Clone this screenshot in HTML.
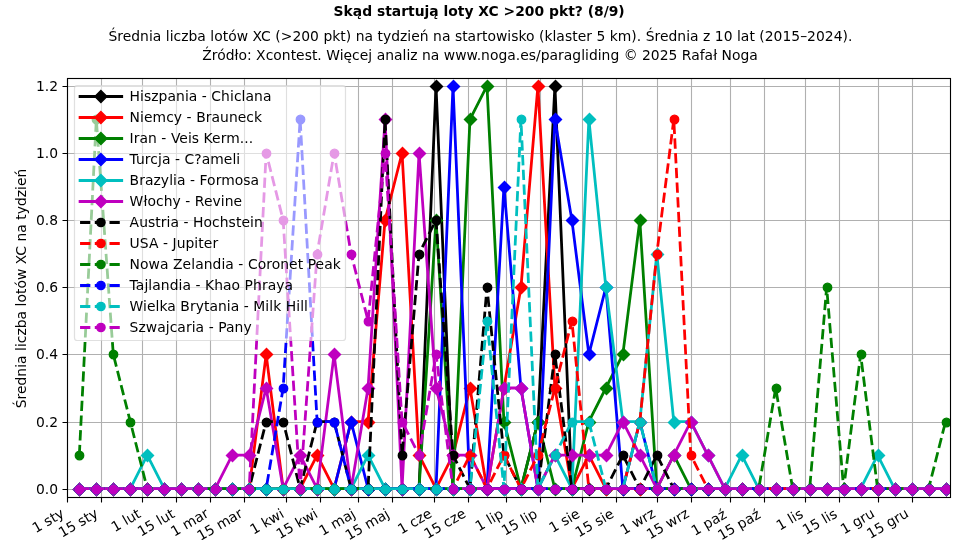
<!DOCTYPE html>
<html lang="pl"><head><meta charset="utf-8"><title>Skąd startują loty XC</title>
<style>html,body{margin:0;padding:0;background:#fff;overflow:hidden}svg{display:block}</style></head>
<body>
<svg width="960" height="540" viewBox="0 0 960 540" font-family="'DejaVu Sans', 'Liberation Sans', sans-serif" font-size="13.889px">
<rect width="960" height="540" fill="#fff"/>
<path d="M67.50 78.50V497.50M101.50 78.50V497.50M142.50 78.50V497.50M176.50 78.50V497.50M210.50 78.50V497.50M244.50 78.50V497.50M286.50 78.50V497.50M320.50 78.50V497.50M358.50 78.50V497.50M392.50 78.50V497.50M434.50 78.50V497.50M468.50 78.50V497.50M506.50 78.50V497.50M540.50 78.50V497.50M582.50 78.50V497.50M616.50 78.50V497.50M657.50 78.50V497.50M691.50 78.50V497.50M730.50 78.50V497.50M764.50 78.50V497.50M805.50 78.50V497.50M839.50 78.50V497.50M878.50 78.50V497.50M912.50 78.50V497.50M67.50 489.50H950.50M67.50 422.50H950.50M67.50 354.50H950.50M67.50 287.50H950.50M67.50 220.50H950.50M67.50 153.50H950.50M67.50 86.50H950.50" stroke="#b0b0b0" stroke-width="1.11" fill="none"/>
<defs><clipPath id="cp"><rect x="67.20" y="77.78" width="883.21" height="419.00"/></clipPath></defs>
<g clip-path="url(#cp)">
<polyline points="79.33,488.72 96.32,488.72 113.30,488.72 130.29,488.72 147.27,488.72 164.26,488.72 181.24,488.72 198.23,488.72 215.21,488.72 232.20,488.72 249.18,488.72 266.16,488.72 283.15,488.72 300.13,488.72 317.12,488.72 334.10,488.72 351.09,488.72 368.07,488.72 385.06,488.72 402.04,488.72 419.03,488.72 436.01,85.84 453.00,488.72 469.98,488.72 486.97,488.72 503.95,488.72 520.94,488.72 537.92,421.57 554.91,85.84 571.89,488.72 588.88,488.72 605.86,488.72 622.85,488.72 639.83,488.72 656.82,488.72 673.80,488.72 690.79,488.72 707.77,488.72 724.75,488.72 741.74,488.72 758.72,488.72 775.71,488.72 792.69,488.72 809.68,488.72 826.66,488.72 843.65,488.72 860.63,488.72 877.62,488.72 894.60,488.72 911.59,488.72 928.57,488.72 945.56,488.72" fill="none" stroke="#000000" stroke-width="2.78" stroke-linejoin="round" stroke-linecap="square"/>
<path d="M79.5 483.5l6 6l-6 6l-6 -6zM96.5 483.5l6 6l-6 6l-6 -6zM113.5 483.5l6 6l-6 6l-6 -6zM130.5 483.5l6 6l-6 6l-6 -6zM147.5 483.5l6 6l-6 6l-6 -6zM164.5 483.5l6 6l-6 6l-6 -6zM181.5 483.5l6 6l-6 6l-6 -6zM198.5 483.5l6 6l-6 6l-6 -6zM215.5 483.5l6 6l-6 6l-6 -6zM232.5 483.5l6 6l-6 6l-6 -6zM249.5 483.5l6 6l-6 6l-6 -6zM266.5 483.5l6 6l-6 6l-6 -6zM283.5 483.5l6 6l-6 6l-6 -6zM300.5 483.5l6 6l-6 6l-6 -6zM317.5 483.5l6 6l-6 6l-6 -6zM334.5 483.5l6 6l-6 6l-6 -6zM351.5 483.5l6 6l-6 6l-6 -6zM368.5 483.5l6 6l-6 6l-6 -6zM385.5 483.5l6 6l-6 6l-6 -6zM402.5 483.5l6 6l-6 6l-6 -6zM419.5 483.5l6 6l-6 6l-6 -6zM436.5 80.5l6 6l-6 6l-6 -6zM453.5 483.5l6 6l-6 6l-6 -6zM470.5 483.5l6 6l-6 6l-6 -6zM487.5 483.5l6 6l-6 6l-6 -6zM504.5 483.5l6 6l-6 6l-6 -6zM521.5 483.5l6 6l-6 6l-6 -6zM538.5 416.5l6 6l-6 6l-6 -6zM555.5 80.5l6 6l-6 6l-6 -6zM572.5 483.5l6 6l-6 6l-6 -6zM589.5 483.5l6 6l-6 6l-6 -6zM606.5 483.5l6 6l-6 6l-6 -6zM623.5 483.5l6 6l-6 6l-6 -6zM640.5 483.5l6 6l-6 6l-6 -6zM657.5 483.5l6 6l-6 6l-6 -6zM674.5 483.5l6 6l-6 6l-6 -6zM691.5 483.5l6 6l-6 6l-6 -6zM708.5 483.5l6 6l-6 6l-6 -6zM725.5 483.5l6 6l-6 6l-6 -6zM742.5 483.5l6 6l-6 6l-6 -6zM759.5 483.5l6 6l-6 6l-6 -6zM776.5 483.5l6 6l-6 6l-6 -6zM793.5 483.5l6 6l-6 6l-6 -6zM810.5 483.5l6 6l-6 6l-6 -6zM827.5 483.5l6 6l-6 6l-6 -6zM844.5 483.5l6 6l-6 6l-6 -6zM861.5 483.5l6 6l-6 6l-6 -6zM878.5 483.5l6 6l-6 6l-6 -6zM895.5 483.5l6 6l-6 6l-6 -6zM912.5 483.5l6 6l-6 6l-6 -6zM929.5 483.5l6 6l-6 6l-6 -6zM946.5 483.5l6 6l-6 6l-6 -6z" fill="#000000" stroke="#000000" stroke-width="1.39" stroke-linejoin="miter"/>
<polyline points="79.33,488.72 96.32,488.72 113.30,488.72 130.29,488.72 147.27,488.72 164.26,488.72 181.24,488.72 198.23,488.72 215.21,488.72 232.20,488.72 249.18,488.72 266.16,354.43 283.15,488.72 300.13,488.72 317.12,455.15 334.10,488.72 351.09,421.57 368.07,421.57 385.06,220.14 402.04,152.99 419.03,455.15 436.01,488.72 453.00,455.15 469.98,388.00 486.97,488.72 503.95,388.00 520.94,287.28 537.92,85.84 554.91,388.00 571.89,488.72 588.88,455.15 605.86,488.72 622.85,488.72 639.83,488.72 656.82,488.72 673.80,488.72 690.79,488.72 707.77,488.72 724.75,488.72 741.74,488.72 758.72,488.72 775.71,488.72 792.69,488.72 809.68,488.72 826.66,488.72 843.65,488.72 860.63,488.72 877.62,488.72 894.60,488.72 911.59,488.72 928.57,488.72 945.56,488.72" fill="none" stroke="#ff0000" stroke-width="2.78" stroke-linejoin="round" stroke-linecap="square"/>
<path d="M79.5 483.5l6 6l-6 6l-6 -6zM96.5 483.5l6 6l-6 6l-6 -6zM113.5 483.5l6 6l-6 6l-6 -6zM130.5 483.5l6 6l-6 6l-6 -6zM147.5 483.5l6 6l-6 6l-6 -6zM164.5 483.5l6 6l-6 6l-6 -6zM181.5 483.5l6 6l-6 6l-6 -6zM198.5 483.5l6 6l-6 6l-6 -6zM215.5 483.5l6 6l-6 6l-6 -6zM232.5 483.5l6 6l-6 6l-6 -6zM249.5 483.5l6 6l-6 6l-6 -6zM266.5 348.5l6 6l-6 6l-6 -6zM283.5 483.5l6 6l-6 6l-6 -6zM300.5 483.5l6 6l-6 6l-6 -6zM317.5 449.5l6 6l-6 6l-6 -6zM334.5 483.5l6 6l-6 6l-6 -6zM351.5 416.5l6 6l-6 6l-6 -6zM368.5 416.5l6 6l-6 6l-6 -6zM385.5 214.5l6 6l-6 6l-6 -6zM402.5 147.5l6 6l-6 6l-6 -6zM419.5 449.5l6 6l-6 6l-6 -6zM436.5 483.5l6 6l-6 6l-6 -6zM453.5 449.5l6 6l-6 6l-6 -6zM470.5 382.5l6 6l-6 6l-6 -6zM487.5 483.5l6 6l-6 6l-6 -6zM504.5 382.5l6 6l-6 6l-6 -6zM521.5 281.5l6 6l-6 6l-6 -6zM538.5 80.5l6 6l-6 6l-6 -6zM555.5 382.5l6 6l-6 6l-6 -6zM572.5 483.5l6 6l-6 6l-6 -6zM589.5 449.5l6 6l-6 6l-6 -6zM606.5 483.5l6 6l-6 6l-6 -6zM623.5 483.5l6 6l-6 6l-6 -6zM640.5 483.5l6 6l-6 6l-6 -6zM657.5 483.5l6 6l-6 6l-6 -6zM674.5 483.5l6 6l-6 6l-6 -6zM691.5 483.5l6 6l-6 6l-6 -6zM708.5 483.5l6 6l-6 6l-6 -6zM725.5 483.5l6 6l-6 6l-6 -6zM742.5 483.5l6 6l-6 6l-6 -6zM759.5 483.5l6 6l-6 6l-6 -6zM776.5 483.5l6 6l-6 6l-6 -6zM793.5 483.5l6 6l-6 6l-6 -6zM810.5 483.5l6 6l-6 6l-6 -6zM827.5 483.5l6 6l-6 6l-6 -6zM844.5 483.5l6 6l-6 6l-6 -6zM861.5 483.5l6 6l-6 6l-6 -6zM878.5 483.5l6 6l-6 6l-6 -6zM895.5 483.5l6 6l-6 6l-6 -6zM912.5 483.5l6 6l-6 6l-6 -6zM929.5 483.5l6 6l-6 6l-6 -6zM946.5 483.5l6 6l-6 6l-6 -6z" fill="#ff0000" stroke="#ff0000" stroke-width="1.39" stroke-linejoin="miter"/>
<polyline points="79.33,488.72 96.32,488.72 113.30,488.72 130.29,488.72 147.27,488.72 164.26,488.72 181.24,488.72 198.23,488.72 215.21,488.72 232.20,488.72 249.18,488.72 266.16,488.72 283.15,488.72 300.13,488.72 317.12,488.72 334.10,488.72 351.09,488.72 368.07,488.72 385.06,488.72 402.04,488.72 419.03,488.72 436.01,220.14 453.00,488.72 469.98,119.42 486.97,85.84 503.95,421.57 520.94,488.72 537.92,421.57 554.91,488.72 571.89,488.72 588.88,421.57 605.86,388.00 622.85,354.43 639.83,220.14 656.82,488.72 673.80,455.15 690.79,488.72 707.77,488.72 724.75,488.72 741.74,488.72 758.72,488.72 775.71,488.72 792.69,488.72 809.68,488.72 826.66,488.72 843.65,488.72 860.63,488.72 877.62,488.72 894.60,488.72 911.59,488.72 928.57,488.72 945.56,488.72" fill="none" stroke="#008000" stroke-width="2.78" stroke-linejoin="round" stroke-linecap="square"/>
<path d="M79.5 483.5l6 6l-6 6l-6 -6zM96.5 483.5l6 6l-6 6l-6 -6zM113.5 483.5l6 6l-6 6l-6 -6zM130.5 483.5l6 6l-6 6l-6 -6zM147.5 483.5l6 6l-6 6l-6 -6zM164.5 483.5l6 6l-6 6l-6 -6zM181.5 483.5l6 6l-6 6l-6 -6zM198.5 483.5l6 6l-6 6l-6 -6zM215.5 483.5l6 6l-6 6l-6 -6zM232.5 483.5l6 6l-6 6l-6 -6zM249.5 483.5l6 6l-6 6l-6 -6zM266.5 483.5l6 6l-6 6l-6 -6zM283.5 483.5l6 6l-6 6l-6 -6zM300.5 483.5l6 6l-6 6l-6 -6zM317.5 483.5l6 6l-6 6l-6 -6zM334.5 483.5l6 6l-6 6l-6 -6zM351.5 483.5l6 6l-6 6l-6 -6zM368.5 483.5l6 6l-6 6l-6 -6zM385.5 483.5l6 6l-6 6l-6 -6zM402.5 483.5l6 6l-6 6l-6 -6zM419.5 483.5l6 6l-6 6l-6 -6zM436.5 214.5l6 6l-6 6l-6 -6zM453.5 483.5l6 6l-6 6l-6 -6zM470.5 113.5l6 6l-6 6l-6 -6zM487.5 80.5l6 6l-6 6l-6 -6zM504.5 416.5l6 6l-6 6l-6 -6zM521.5 483.5l6 6l-6 6l-6 -6zM538.5 416.5l6 6l-6 6l-6 -6zM555.5 483.5l6 6l-6 6l-6 -6zM572.5 483.5l6 6l-6 6l-6 -6zM589.5 416.5l6 6l-6 6l-6 -6zM606.5 382.5l6 6l-6 6l-6 -6zM623.5 348.5l6 6l-6 6l-6 -6zM640.5 214.5l6 6l-6 6l-6 -6zM657.5 483.5l6 6l-6 6l-6 -6zM674.5 449.5l6 6l-6 6l-6 -6zM691.5 483.5l6 6l-6 6l-6 -6zM708.5 483.5l6 6l-6 6l-6 -6zM725.5 483.5l6 6l-6 6l-6 -6zM742.5 483.5l6 6l-6 6l-6 -6zM759.5 483.5l6 6l-6 6l-6 -6zM776.5 483.5l6 6l-6 6l-6 -6zM793.5 483.5l6 6l-6 6l-6 -6zM810.5 483.5l6 6l-6 6l-6 -6zM827.5 483.5l6 6l-6 6l-6 -6zM844.5 483.5l6 6l-6 6l-6 -6zM861.5 483.5l6 6l-6 6l-6 -6zM878.5 483.5l6 6l-6 6l-6 -6zM895.5 483.5l6 6l-6 6l-6 -6zM912.5 483.5l6 6l-6 6l-6 -6zM929.5 483.5l6 6l-6 6l-6 -6zM946.5 483.5l6 6l-6 6l-6 -6z" fill="#008000" stroke="#008000" stroke-width="1.39" stroke-linejoin="miter"/>
<polyline points="79.33,488.72 96.32,488.72 113.30,488.72 130.29,488.72 147.27,488.72 164.26,488.72 181.24,488.72 198.23,488.72 215.21,488.72 232.20,488.72 249.18,488.72 266.16,488.72 283.15,488.72 300.13,488.72 317.12,488.72 334.10,488.72 351.09,421.57 368.07,488.72 385.06,488.72 402.04,488.72 419.03,488.72 436.01,488.72 453.00,85.84 469.98,488.72 486.97,488.72 503.95,186.56 520.94,388.00 537.92,488.72 554.91,119.42 571.89,220.14 588.88,354.43 605.86,287.28 622.85,488.72 639.83,421.57 656.82,488.72 673.80,488.72 690.79,488.72 707.77,488.72 724.75,488.72 741.74,488.72 758.72,488.72 775.71,488.72 792.69,488.72 809.68,488.72 826.66,488.72 843.65,488.72 860.63,488.72 877.62,488.72 894.60,488.72 911.59,488.72 928.57,488.72 945.56,488.72" fill="none" stroke="#0000ff" stroke-width="2.78" stroke-linejoin="round" stroke-linecap="square"/>
<path d="M79.5 483.5l6 6l-6 6l-6 -6zM96.5 483.5l6 6l-6 6l-6 -6zM113.5 483.5l6 6l-6 6l-6 -6zM130.5 483.5l6 6l-6 6l-6 -6zM147.5 483.5l6 6l-6 6l-6 -6zM164.5 483.5l6 6l-6 6l-6 -6zM181.5 483.5l6 6l-6 6l-6 -6zM198.5 483.5l6 6l-6 6l-6 -6zM215.5 483.5l6 6l-6 6l-6 -6zM232.5 483.5l6 6l-6 6l-6 -6zM249.5 483.5l6 6l-6 6l-6 -6zM266.5 483.5l6 6l-6 6l-6 -6zM283.5 483.5l6 6l-6 6l-6 -6zM300.5 483.5l6 6l-6 6l-6 -6zM317.5 483.5l6 6l-6 6l-6 -6zM334.5 483.5l6 6l-6 6l-6 -6zM351.5 416.5l6 6l-6 6l-6 -6zM368.5 483.5l6 6l-6 6l-6 -6zM385.5 483.5l6 6l-6 6l-6 -6zM402.5 483.5l6 6l-6 6l-6 -6zM419.5 483.5l6 6l-6 6l-6 -6zM436.5 483.5l6 6l-6 6l-6 -6zM453.5 80.5l6 6l-6 6l-6 -6zM470.5 483.5l6 6l-6 6l-6 -6zM487.5 483.5l6 6l-6 6l-6 -6zM504.5 181.5l6 6l-6 6l-6 -6zM521.5 382.5l6 6l-6 6l-6 -6zM538.5 483.5l6 6l-6 6l-6 -6zM555.5 113.5l6 6l-6 6l-6 -6zM572.5 214.5l6 6l-6 6l-6 -6zM589.5 348.5l6 6l-6 6l-6 -6zM606.5 281.5l6 6l-6 6l-6 -6zM623.5 483.5l6 6l-6 6l-6 -6zM640.5 416.5l6 6l-6 6l-6 -6zM657.5 483.5l6 6l-6 6l-6 -6zM674.5 483.5l6 6l-6 6l-6 -6zM691.5 483.5l6 6l-6 6l-6 -6zM708.5 483.5l6 6l-6 6l-6 -6zM725.5 483.5l6 6l-6 6l-6 -6zM742.5 483.5l6 6l-6 6l-6 -6zM759.5 483.5l6 6l-6 6l-6 -6zM776.5 483.5l6 6l-6 6l-6 -6zM793.5 483.5l6 6l-6 6l-6 -6zM810.5 483.5l6 6l-6 6l-6 -6zM827.5 483.5l6 6l-6 6l-6 -6zM844.5 483.5l6 6l-6 6l-6 -6zM861.5 483.5l6 6l-6 6l-6 -6zM878.5 483.5l6 6l-6 6l-6 -6zM895.5 483.5l6 6l-6 6l-6 -6zM912.5 483.5l6 6l-6 6l-6 -6zM929.5 483.5l6 6l-6 6l-6 -6zM946.5 483.5l6 6l-6 6l-6 -6z" fill="#0000ff" stroke="#0000ff" stroke-width="1.39" stroke-linejoin="miter"/>
<polyline points="79.33,488.72 96.32,488.72 113.30,488.72 130.29,488.72 147.27,455.15 164.26,488.72 181.24,488.72 198.23,488.72 215.21,488.72 232.20,488.72 249.18,488.72 266.16,488.72 283.15,488.72 300.13,488.72 317.12,488.72 334.10,488.72 351.09,488.72 368.07,455.15 385.06,488.72 402.04,488.72 419.03,488.72 436.01,488.72 453.00,488.72 469.98,488.72 486.97,488.72 503.95,488.72 520.94,488.72 537.92,488.72 554.91,455.15 571.89,488.72 588.88,119.42 605.86,287.28 622.85,421.57 639.83,421.57 656.82,253.71 673.80,421.57 690.79,421.57 707.77,455.15 724.75,488.72 741.74,455.15 758.72,488.72 775.71,488.72 792.69,488.72 809.68,488.72 826.66,488.72 843.65,488.72 860.63,488.72 877.62,455.15 894.60,488.72 911.59,488.72 928.57,488.72 945.56,488.72" fill="none" stroke="#00bfbf" stroke-width="2.78" stroke-linejoin="round" stroke-linecap="square"/>
<path d="M79.5 483.5l6 6l-6 6l-6 -6zM96.5 483.5l6 6l-6 6l-6 -6zM113.5 483.5l6 6l-6 6l-6 -6zM130.5 483.5l6 6l-6 6l-6 -6zM147.5 449.5l6 6l-6 6l-6 -6zM164.5 483.5l6 6l-6 6l-6 -6zM181.5 483.5l6 6l-6 6l-6 -6zM198.5 483.5l6 6l-6 6l-6 -6zM215.5 483.5l6 6l-6 6l-6 -6zM232.5 483.5l6 6l-6 6l-6 -6zM249.5 483.5l6 6l-6 6l-6 -6zM266.5 483.5l6 6l-6 6l-6 -6zM283.5 483.5l6 6l-6 6l-6 -6zM300.5 483.5l6 6l-6 6l-6 -6zM317.5 483.5l6 6l-6 6l-6 -6zM334.5 483.5l6 6l-6 6l-6 -6zM351.5 483.5l6 6l-6 6l-6 -6zM368.5 449.5l6 6l-6 6l-6 -6zM385.5 483.5l6 6l-6 6l-6 -6zM402.5 483.5l6 6l-6 6l-6 -6zM419.5 483.5l6 6l-6 6l-6 -6zM436.5 483.5l6 6l-6 6l-6 -6zM453.5 483.5l6 6l-6 6l-6 -6zM470.5 483.5l6 6l-6 6l-6 -6zM487.5 483.5l6 6l-6 6l-6 -6zM504.5 483.5l6 6l-6 6l-6 -6zM521.5 483.5l6 6l-6 6l-6 -6zM538.5 483.5l6 6l-6 6l-6 -6zM555.5 449.5l6 6l-6 6l-6 -6zM572.5 483.5l6 6l-6 6l-6 -6zM589.5 113.5l6 6l-6 6l-6 -6zM606.5 281.5l6 6l-6 6l-6 -6zM623.5 416.5l6 6l-6 6l-6 -6zM640.5 416.5l6 6l-6 6l-6 -6zM657.5 248.5l6 6l-6 6l-6 -6zM674.5 416.5l6 6l-6 6l-6 -6zM691.5 416.5l6 6l-6 6l-6 -6zM708.5 449.5l6 6l-6 6l-6 -6zM725.5 483.5l6 6l-6 6l-6 -6zM742.5 449.5l6 6l-6 6l-6 -6zM759.5 483.5l6 6l-6 6l-6 -6zM776.5 483.5l6 6l-6 6l-6 -6zM793.5 483.5l6 6l-6 6l-6 -6zM810.5 483.5l6 6l-6 6l-6 -6zM827.5 483.5l6 6l-6 6l-6 -6zM844.5 483.5l6 6l-6 6l-6 -6zM861.5 483.5l6 6l-6 6l-6 -6zM878.5 449.5l6 6l-6 6l-6 -6zM895.5 483.5l6 6l-6 6l-6 -6zM912.5 483.5l6 6l-6 6l-6 -6zM929.5 483.5l6 6l-6 6l-6 -6zM946.5 483.5l6 6l-6 6l-6 -6z" fill="#00bfbf" stroke="#00bfbf" stroke-width="1.39" stroke-linejoin="miter"/>
<polyline points="79.33,488.72 96.32,488.72 113.30,488.72 130.29,488.72 147.27,488.72 164.26,488.72 181.24,488.72 198.23,488.72 215.21,488.72 232.20,455.15 249.18,455.15 266.16,388.00 283.15,488.72 300.13,455.15 317.12,488.72 334.10,354.43 351.09,488.72 368.07,388.00 385.06,119.42 402.04,488.72 419.03,152.99 436.01,388.00 453.00,455.15 469.98,455.15 486.97,488.72 503.95,388.00 520.94,388.00 537.92,488.72 554.91,455.15 571.89,455.15 588.88,455.15 605.86,455.15 622.85,421.57 639.83,455.15 656.82,488.72 673.80,455.15 690.79,421.57 707.77,455.15 724.75,488.72 741.74,488.72 758.72,488.72 775.71,488.72 792.69,488.72 809.68,488.72 826.66,488.72 843.65,488.72 860.63,488.72 877.62,488.72 894.60,488.72 911.59,488.72 928.57,488.72 945.56,488.72" fill="none" stroke="#bf00bf" stroke-width="2.78" stroke-linejoin="round" stroke-linecap="square"/>
<path d="M79.5 483.5l6 6l-6 6l-6 -6zM96.5 483.5l6 6l-6 6l-6 -6zM113.5 483.5l6 6l-6 6l-6 -6zM130.5 483.5l6 6l-6 6l-6 -6zM147.5 483.5l6 6l-6 6l-6 -6zM164.5 483.5l6 6l-6 6l-6 -6zM181.5 483.5l6 6l-6 6l-6 -6zM198.5 483.5l6 6l-6 6l-6 -6zM215.5 483.5l6 6l-6 6l-6 -6zM232.5 449.5l6 6l-6 6l-6 -6zM249.5 449.5l6 6l-6 6l-6 -6zM266.5 382.5l6 6l-6 6l-6 -6zM283.5 483.5l6 6l-6 6l-6 -6zM300.5 449.5l6 6l-6 6l-6 -6zM317.5 483.5l6 6l-6 6l-6 -6zM334.5 348.5l6 6l-6 6l-6 -6zM351.5 483.5l6 6l-6 6l-6 -6zM368.5 382.5l6 6l-6 6l-6 -6zM385.5 113.5l6 6l-6 6l-6 -6zM402.5 483.5l6 6l-6 6l-6 -6zM419.5 147.5l6 6l-6 6l-6 -6zM436.5 382.5l6 6l-6 6l-6 -6zM453.5 449.5l6 6l-6 6l-6 -6zM470.5 449.5l6 6l-6 6l-6 -6zM487.5 483.5l6 6l-6 6l-6 -6zM504.5 382.5l6 6l-6 6l-6 -6zM521.5 382.5l6 6l-6 6l-6 -6zM538.5 483.5l6 6l-6 6l-6 -6zM555.5 449.5l6 6l-6 6l-6 -6zM572.5 449.5l6 6l-6 6l-6 -6zM589.5 449.5l6 6l-6 6l-6 -6zM606.5 449.5l6 6l-6 6l-6 -6zM623.5 416.5l6 6l-6 6l-6 -6zM640.5 449.5l6 6l-6 6l-6 -6zM657.5 483.5l6 6l-6 6l-6 -6zM674.5 449.5l6 6l-6 6l-6 -6zM691.5 416.5l6 6l-6 6l-6 -6zM708.5 449.5l6 6l-6 6l-6 -6zM725.5 483.5l6 6l-6 6l-6 -6zM742.5 483.5l6 6l-6 6l-6 -6zM759.5 483.5l6 6l-6 6l-6 -6zM776.5 483.5l6 6l-6 6l-6 -6zM793.5 483.5l6 6l-6 6l-6 -6zM810.5 483.5l6 6l-6 6l-6 -6zM827.5 483.5l6 6l-6 6l-6 -6zM844.5 483.5l6 6l-6 6l-6 -6zM861.5 483.5l6 6l-6 6l-6 -6zM878.5 483.5l6 6l-6 6l-6 -6zM895.5 483.5l6 6l-6 6l-6 -6zM912.5 483.5l6 6l-6 6l-6 -6zM929.5 483.5l6 6l-6 6l-6 -6zM946.5 483.5l6 6l-6 6l-6 -6z" fill="#bf00bf" stroke="#bf00bf" stroke-width="1.39" stroke-linejoin="miter"/>
<polyline points="79.33,488.72 96.32,488.72 113.30,488.72 130.29,488.72 147.27,488.72 164.26,488.72 181.24,488.72 198.23,488.72 215.21,488.72 232.20,488.72 249.18,488.72 266.16,421.57 283.15,421.57 300.13,488.72 317.12,421.57 334.10,421.57 351.09,488.72 368.07,488.72 385.06,119.42 402.04,455.15 419.03,253.71 436.01,220.14 453.00,455.15 469.98,488.72 486.97,287.28 503.95,455.15 520.94,488.72 537.92,488.72 554.91,354.43 571.89,488.72 588.88,488.72 605.86,488.72 622.85,455.15 639.83,488.72 656.82,455.15 673.80,488.72 690.79,488.72 707.77,488.72 724.75,488.72 741.74,488.72 758.72,488.72 775.71,488.72 792.69,488.72 809.68,488.72 826.66,488.72 843.65,488.72 860.63,488.72 877.62,488.72 894.60,488.72 911.59,488.72 928.57,488.72 945.56,488.72" fill="none" stroke="#000000" stroke-width="2.78" stroke-linejoin="round" stroke-dasharray="10.28 4.44"/>
<path d="M75.33 489.5a4.17 4.17 0 1 0 8.33 0a4.17 4.17 0 1 0 -8.33 0zM92.33 489.5a4.17 4.17 0 1 0 8.33 0a4.17 4.17 0 1 0 -8.33 0zM109.33 489.5a4.17 4.17 0 1 0 8.33 0a4.17 4.17 0 1 0 -8.33 0zM126.33 489.5a4.17 4.17 0 1 0 8.33 0a4.17 4.17 0 1 0 -8.33 0zM143.33 489.5a4.17 4.17 0 1 0 8.33 0a4.17 4.17 0 1 0 -8.33 0zM160.33 489.5a4.17 4.17 0 1 0 8.33 0a4.17 4.17 0 1 0 -8.33 0zM177.33 489.5a4.17 4.17 0 1 0 8.33 0a4.17 4.17 0 1 0 -8.33 0zM194.33 489.5a4.17 4.17 0 1 0 8.33 0a4.17 4.17 0 1 0 -8.33 0zM211.33 489.5a4.17 4.17 0 1 0 8.33 0a4.17 4.17 0 1 0 -8.33 0zM228.33 489.5a4.17 4.17 0 1 0 8.33 0a4.17 4.17 0 1 0 -8.33 0zM245.33 489.5a4.17 4.17 0 1 0 8.33 0a4.17 4.17 0 1 0 -8.33 0zM262.33 422.5a4.17 4.17 0 1 0 8.33 0a4.17 4.17 0 1 0 -8.33 0zM279.33 422.5a4.17 4.17 0 1 0 8.33 0a4.17 4.17 0 1 0 -8.33 0zM296.33 489.5a4.17 4.17 0 1 0 8.33 0a4.17 4.17 0 1 0 -8.33 0zM313.33 422.5a4.17 4.17 0 1 0 8.33 0a4.17 4.17 0 1 0 -8.33 0zM330.33 422.5a4.17 4.17 0 1 0 8.33 0a4.17 4.17 0 1 0 -8.33 0zM347.33 489.5a4.17 4.17 0 1 0 8.33 0a4.17 4.17 0 1 0 -8.33 0zM364.33 489.5a4.17 4.17 0 1 0 8.33 0a4.17 4.17 0 1 0 -8.33 0zM381.33 119.5a4.17 4.17 0 1 0 8.33 0a4.17 4.17 0 1 0 -8.33 0zM398.33 455.5a4.17 4.17 0 1 0 8.33 0a4.17 4.17 0 1 0 -8.33 0zM415.33 254.5a4.17 4.17 0 1 0 8.33 0a4.17 4.17 0 1 0 -8.33 0zM432.33 220.5a4.17 4.17 0 1 0 8.33 0a4.17 4.17 0 1 0 -8.33 0zM449.33 455.5a4.17 4.17 0 1 0 8.33 0a4.17 4.17 0 1 0 -8.33 0zM466.33 489.5a4.17 4.17 0 1 0 8.33 0a4.17 4.17 0 1 0 -8.33 0zM483.33 287.5a4.17 4.17 0 1 0 8.33 0a4.17 4.17 0 1 0 -8.33 0zM500.33 455.5a4.17 4.17 0 1 0 8.33 0a4.17 4.17 0 1 0 -8.33 0zM517.33 489.5a4.17 4.17 0 1 0 8.33 0a4.17 4.17 0 1 0 -8.33 0zM534.33 489.5a4.17 4.17 0 1 0 8.33 0a4.17 4.17 0 1 0 -8.33 0zM551.33 354.5a4.17 4.17 0 1 0 8.33 0a4.17 4.17 0 1 0 -8.33 0zM568.33 489.5a4.17 4.17 0 1 0 8.33 0a4.17 4.17 0 1 0 -8.33 0zM585.33 489.5a4.17 4.17 0 1 0 8.33 0a4.17 4.17 0 1 0 -8.33 0zM602.33 489.5a4.17 4.17 0 1 0 8.33 0a4.17 4.17 0 1 0 -8.33 0zM619.33 455.5a4.17 4.17 0 1 0 8.33 0a4.17 4.17 0 1 0 -8.33 0zM636.33 489.5a4.17 4.17 0 1 0 8.33 0a4.17 4.17 0 1 0 -8.33 0zM653.33 455.5a4.17 4.17 0 1 0 8.33 0a4.17 4.17 0 1 0 -8.33 0zM670.33 489.5a4.17 4.17 0 1 0 8.33 0a4.17 4.17 0 1 0 -8.33 0zM687.33 489.5a4.17 4.17 0 1 0 8.33 0a4.17 4.17 0 1 0 -8.33 0zM704.33 489.5a4.17 4.17 0 1 0 8.33 0a4.17 4.17 0 1 0 -8.33 0zM721.33 489.5a4.17 4.17 0 1 0 8.33 0a4.17 4.17 0 1 0 -8.33 0zM738.33 489.5a4.17 4.17 0 1 0 8.33 0a4.17 4.17 0 1 0 -8.33 0zM755.33 489.5a4.17 4.17 0 1 0 8.33 0a4.17 4.17 0 1 0 -8.33 0zM772.33 489.5a4.17 4.17 0 1 0 8.33 0a4.17 4.17 0 1 0 -8.33 0zM789.33 489.5a4.17 4.17 0 1 0 8.33 0a4.17 4.17 0 1 0 -8.33 0zM806.33 489.5a4.17 4.17 0 1 0 8.33 0a4.17 4.17 0 1 0 -8.33 0zM823.33 489.5a4.17 4.17 0 1 0 8.33 0a4.17 4.17 0 1 0 -8.33 0zM840.33 489.5a4.17 4.17 0 1 0 8.33 0a4.17 4.17 0 1 0 -8.33 0zM857.33 489.5a4.17 4.17 0 1 0 8.33 0a4.17 4.17 0 1 0 -8.33 0zM874.33 489.5a4.17 4.17 0 1 0 8.33 0a4.17 4.17 0 1 0 -8.33 0zM891.33 489.5a4.17 4.17 0 1 0 8.33 0a4.17 4.17 0 1 0 -8.33 0zM908.33 489.5a4.17 4.17 0 1 0 8.33 0a4.17 4.17 0 1 0 -8.33 0zM925.33 489.5a4.17 4.17 0 1 0 8.33 0a4.17 4.17 0 1 0 -8.33 0zM942.33 489.5a4.17 4.17 0 1 0 8.33 0a4.17 4.17 0 1 0 -8.33 0z" fill="#000000" stroke="#000000" stroke-width="1.39"/>
<polyline points="79.33,488.72 96.32,488.72 113.30,488.72 130.29,488.72 147.27,488.72 164.26,488.72 181.24,488.72 198.23,488.72 215.21,488.72 232.20,488.72 249.18,488.72 266.16,488.72 283.15,488.72 300.13,488.72 317.12,488.72 334.10,488.72 351.09,488.72 368.07,488.72 385.06,488.72 402.04,488.72 419.03,488.72 436.01,488.72 453.00,488.72 469.98,455.15 486.97,488.72 503.95,455.15 520.94,488.72 537.92,455.15 554.91,388.00 571.89,320.86 588.88,488.72 605.86,488.72 622.85,488.72 639.83,421.57 656.82,253.71 673.80,119.42 690.79,455.15 707.77,488.72 724.75,488.72 741.74,488.72 758.72,488.72 775.71,488.72 792.69,488.72 809.68,488.72 826.66,488.72 843.65,488.72 860.63,488.72 877.62,488.72 894.60,488.72 911.59,488.72 928.57,488.72 945.56,488.72" fill="none" stroke="#ff0000" stroke-width="2.78" stroke-linejoin="round" stroke-dasharray="10.28 4.44"/>
<path d="M75.33 489.5a4.17 4.17 0 1 0 8.33 0a4.17 4.17 0 1 0 -8.33 0zM92.33 489.5a4.17 4.17 0 1 0 8.33 0a4.17 4.17 0 1 0 -8.33 0zM109.33 489.5a4.17 4.17 0 1 0 8.33 0a4.17 4.17 0 1 0 -8.33 0zM126.33 489.5a4.17 4.17 0 1 0 8.33 0a4.17 4.17 0 1 0 -8.33 0zM143.33 489.5a4.17 4.17 0 1 0 8.33 0a4.17 4.17 0 1 0 -8.33 0zM160.33 489.5a4.17 4.17 0 1 0 8.33 0a4.17 4.17 0 1 0 -8.33 0zM177.33 489.5a4.17 4.17 0 1 0 8.33 0a4.17 4.17 0 1 0 -8.33 0zM194.33 489.5a4.17 4.17 0 1 0 8.33 0a4.17 4.17 0 1 0 -8.33 0zM211.33 489.5a4.17 4.17 0 1 0 8.33 0a4.17 4.17 0 1 0 -8.33 0zM228.33 489.5a4.17 4.17 0 1 0 8.33 0a4.17 4.17 0 1 0 -8.33 0zM245.33 489.5a4.17 4.17 0 1 0 8.33 0a4.17 4.17 0 1 0 -8.33 0zM262.33 489.5a4.17 4.17 0 1 0 8.33 0a4.17 4.17 0 1 0 -8.33 0zM279.33 489.5a4.17 4.17 0 1 0 8.33 0a4.17 4.17 0 1 0 -8.33 0zM296.33 489.5a4.17 4.17 0 1 0 8.33 0a4.17 4.17 0 1 0 -8.33 0zM313.33 489.5a4.17 4.17 0 1 0 8.33 0a4.17 4.17 0 1 0 -8.33 0zM330.33 489.5a4.17 4.17 0 1 0 8.33 0a4.17 4.17 0 1 0 -8.33 0zM347.33 489.5a4.17 4.17 0 1 0 8.33 0a4.17 4.17 0 1 0 -8.33 0zM364.33 489.5a4.17 4.17 0 1 0 8.33 0a4.17 4.17 0 1 0 -8.33 0zM381.33 489.5a4.17 4.17 0 1 0 8.33 0a4.17 4.17 0 1 0 -8.33 0zM398.33 489.5a4.17 4.17 0 1 0 8.33 0a4.17 4.17 0 1 0 -8.33 0zM415.33 489.5a4.17 4.17 0 1 0 8.33 0a4.17 4.17 0 1 0 -8.33 0zM432.33 489.5a4.17 4.17 0 1 0 8.33 0a4.17 4.17 0 1 0 -8.33 0zM449.33 489.5a4.17 4.17 0 1 0 8.33 0a4.17 4.17 0 1 0 -8.33 0zM466.33 455.5a4.17 4.17 0 1 0 8.33 0a4.17 4.17 0 1 0 -8.33 0zM483.33 489.5a4.17 4.17 0 1 0 8.33 0a4.17 4.17 0 1 0 -8.33 0zM500.33 455.5a4.17 4.17 0 1 0 8.33 0a4.17 4.17 0 1 0 -8.33 0zM517.33 489.5a4.17 4.17 0 1 0 8.33 0a4.17 4.17 0 1 0 -8.33 0zM534.33 455.5a4.17 4.17 0 1 0 8.33 0a4.17 4.17 0 1 0 -8.33 0zM551.33 388.5a4.17 4.17 0 1 0 8.33 0a4.17 4.17 0 1 0 -8.33 0zM568.33 321.5a4.17 4.17 0 1 0 8.33 0a4.17 4.17 0 1 0 -8.33 0zM585.33 489.5a4.17 4.17 0 1 0 8.33 0a4.17 4.17 0 1 0 -8.33 0zM602.33 489.5a4.17 4.17 0 1 0 8.33 0a4.17 4.17 0 1 0 -8.33 0zM619.33 489.5a4.17 4.17 0 1 0 8.33 0a4.17 4.17 0 1 0 -8.33 0zM636.33 422.5a4.17 4.17 0 1 0 8.33 0a4.17 4.17 0 1 0 -8.33 0zM653.33 254.5a4.17 4.17 0 1 0 8.33 0a4.17 4.17 0 1 0 -8.33 0zM670.33 119.5a4.17 4.17 0 1 0 8.33 0a4.17 4.17 0 1 0 -8.33 0zM687.33 455.5a4.17 4.17 0 1 0 8.33 0a4.17 4.17 0 1 0 -8.33 0zM704.33 489.5a4.17 4.17 0 1 0 8.33 0a4.17 4.17 0 1 0 -8.33 0zM721.33 489.5a4.17 4.17 0 1 0 8.33 0a4.17 4.17 0 1 0 -8.33 0zM738.33 489.5a4.17 4.17 0 1 0 8.33 0a4.17 4.17 0 1 0 -8.33 0zM755.33 489.5a4.17 4.17 0 1 0 8.33 0a4.17 4.17 0 1 0 -8.33 0zM772.33 489.5a4.17 4.17 0 1 0 8.33 0a4.17 4.17 0 1 0 -8.33 0zM789.33 489.5a4.17 4.17 0 1 0 8.33 0a4.17 4.17 0 1 0 -8.33 0zM806.33 489.5a4.17 4.17 0 1 0 8.33 0a4.17 4.17 0 1 0 -8.33 0zM823.33 489.5a4.17 4.17 0 1 0 8.33 0a4.17 4.17 0 1 0 -8.33 0zM840.33 489.5a4.17 4.17 0 1 0 8.33 0a4.17 4.17 0 1 0 -8.33 0zM857.33 489.5a4.17 4.17 0 1 0 8.33 0a4.17 4.17 0 1 0 -8.33 0zM874.33 489.5a4.17 4.17 0 1 0 8.33 0a4.17 4.17 0 1 0 -8.33 0zM891.33 489.5a4.17 4.17 0 1 0 8.33 0a4.17 4.17 0 1 0 -8.33 0zM908.33 489.5a4.17 4.17 0 1 0 8.33 0a4.17 4.17 0 1 0 -8.33 0zM925.33 489.5a4.17 4.17 0 1 0 8.33 0a4.17 4.17 0 1 0 -8.33 0zM942.33 489.5a4.17 4.17 0 1 0 8.33 0a4.17 4.17 0 1 0 -8.33 0z" fill="#ff0000" stroke="#ff0000" stroke-width="1.39"/>
<polyline points="79.33,455.15 96.32,119.42 113.30,354.43 130.29,421.57 147.27,488.72 164.26,488.72 181.24,488.72 198.23,488.72 215.21,488.72 232.20,488.72 249.18,488.72 266.16,488.72 283.15,488.72 300.13,488.72 317.12,488.72 334.10,488.72 351.09,488.72 368.07,488.72 385.06,488.72 402.04,488.72 419.03,488.72 436.01,488.72 453.00,488.72 469.98,488.72 486.97,488.72 503.95,488.72 520.94,488.72 537.92,488.72 554.91,488.72 571.89,488.72 588.88,488.72 605.86,488.72 622.85,488.72 639.83,488.72 656.82,488.72 673.80,488.72 690.79,488.72 707.77,488.72 724.75,488.72 741.74,488.72 758.72,488.72 775.71,388.00 792.69,488.72 809.68,488.72 826.66,287.28 843.65,488.72 860.63,354.43 877.62,488.72 894.60,488.72 911.59,488.72 928.57,488.72 945.56,421.57" fill="none" stroke="#008000" stroke-width="2.78" stroke-linejoin="round" stroke-dasharray="10.28 4.44"/>
<path d="M75.33 455.5a4.17 4.17 0 1 0 8.33 0a4.17 4.17 0 1 0 -8.33 0zM92.33 119.5a4.17 4.17 0 1 0 8.33 0a4.17 4.17 0 1 0 -8.33 0zM109.33 354.5a4.17 4.17 0 1 0 8.33 0a4.17 4.17 0 1 0 -8.33 0zM126.33 422.5a4.17 4.17 0 1 0 8.33 0a4.17 4.17 0 1 0 -8.33 0zM143.33 489.5a4.17 4.17 0 1 0 8.33 0a4.17 4.17 0 1 0 -8.33 0zM160.33 489.5a4.17 4.17 0 1 0 8.33 0a4.17 4.17 0 1 0 -8.33 0zM177.33 489.5a4.17 4.17 0 1 0 8.33 0a4.17 4.17 0 1 0 -8.33 0zM194.33 489.5a4.17 4.17 0 1 0 8.33 0a4.17 4.17 0 1 0 -8.33 0zM211.33 489.5a4.17 4.17 0 1 0 8.33 0a4.17 4.17 0 1 0 -8.33 0zM228.33 489.5a4.17 4.17 0 1 0 8.33 0a4.17 4.17 0 1 0 -8.33 0zM245.33 489.5a4.17 4.17 0 1 0 8.33 0a4.17 4.17 0 1 0 -8.33 0zM262.33 489.5a4.17 4.17 0 1 0 8.33 0a4.17 4.17 0 1 0 -8.33 0zM279.33 489.5a4.17 4.17 0 1 0 8.33 0a4.17 4.17 0 1 0 -8.33 0zM296.33 489.5a4.17 4.17 0 1 0 8.33 0a4.17 4.17 0 1 0 -8.33 0zM313.33 489.5a4.17 4.17 0 1 0 8.33 0a4.17 4.17 0 1 0 -8.33 0zM330.33 489.5a4.17 4.17 0 1 0 8.33 0a4.17 4.17 0 1 0 -8.33 0zM347.33 489.5a4.17 4.17 0 1 0 8.33 0a4.17 4.17 0 1 0 -8.33 0zM364.33 489.5a4.17 4.17 0 1 0 8.33 0a4.17 4.17 0 1 0 -8.33 0zM381.33 489.5a4.17 4.17 0 1 0 8.33 0a4.17 4.17 0 1 0 -8.33 0zM398.33 489.5a4.17 4.17 0 1 0 8.33 0a4.17 4.17 0 1 0 -8.33 0zM415.33 489.5a4.17 4.17 0 1 0 8.33 0a4.17 4.17 0 1 0 -8.33 0zM432.33 489.5a4.17 4.17 0 1 0 8.33 0a4.17 4.17 0 1 0 -8.33 0zM449.33 489.5a4.17 4.17 0 1 0 8.33 0a4.17 4.17 0 1 0 -8.33 0zM466.33 489.5a4.17 4.17 0 1 0 8.33 0a4.17 4.17 0 1 0 -8.33 0zM483.33 489.5a4.17 4.17 0 1 0 8.33 0a4.17 4.17 0 1 0 -8.33 0zM500.33 489.5a4.17 4.17 0 1 0 8.33 0a4.17 4.17 0 1 0 -8.33 0zM517.33 489.5a4.17 4.17 0 1 0 8.33 0a4.17 4.17 0 1 0 -8.33 0zM534.33 489.5a4.17 4.17 0 1 0 8.33 0a4.17 4.17 0 1 0 -8.33 0zM551.33 489.5a4.17 4.17 0 1 0 8.33 0a4.17 4.17 0 1 0 -8.33 0zM568.33 489.5a4.17 4.17 0 1 0 8.33 0a4.17 4.17 0 1 0 -8.33 0zM585.33 489.5a4.17 4.17 0 1 0 8.33 0a4.17 4.17 0 1 0 -8.33 0zM602.33 489.5a4.17 4.17 0 1 0 8.33 0a4.17 4.17 0 1 0 -8.33 0zM619.33 489.5a4.17 4.17 0 1 0 8.33 0a4.17 4.17 0 1 0 -8.33 0zM636.33 489.5a4.17 4.17 0 1 0 8.33 0a4.17 4.17 0 1 0 -8.33 0zM653.33 489.5a4.17 4.17 0 1 0 8.33 0a4.17 4.17 0 1 0 -8.33 0zM670.33 489.5a4.17 4.17 0 1 0 8.33 0a4.17 4.17 0 1 0 -8.33 0zM687.33 489.5a4.17 4.17 0 1 0 8.33 0a4.17 4.17 0 1 0 -8.33 0zM704.33 489.5a4.17 4.17 0 1 0 8.33 0a4.17 4.17 0 1 0 -8.33 0zM721.33 489.5a4.17 4.17 0 1 0 8.33 0a4.17 4.17 0 1 0 -8.33 0zM738.33 489.5a4.17 4.17 0 1 0 8.33 0a4.17 4.17 0 1 0 -8.33 0zM755.33 489.5a4.17 4.17 0 1 0 8.33 0a4.17 4.17 0 1 0 -8.33 0zM772.33 388.5a4.17 4.17 0 1 0 8.33 0a4.17 4.17 0 1 0 -8.33 0zM789.33 489.5a4.17 4.17 0 1 0 8.33 0a4.17 4.17 0 1 0 -8.33 0zM806.33 489.5a4.17 4.17 0 1 0 8.33 0a4.17 4.17 0 1 0 -8.33 0zM823.33 287.5a4.17 4.17 0 1 0 8.33 0a4.17 4.17 0 1 0 -8.33 0zM840.33 489.5a4.17 4.17 0 1 0 8.33 0a4.17 4.17 0 1 0 -8.33 0zM857.33 354.5a4.17 4.17 0 1 0 8.33 0a4.17 4.17 0 1 0 -8.33 0zM874.33 489.5a4.17 4.17 0 1 0 8.33 0a4.17 4.17 0 1 0 -8.33 0zM891.33 489.5a4.17 4.17 0 1 0 8.33 0a4.17 4.17 0 1 0 -8.33 0zM908.33 489.5a4.17 4.17 0 1 0 8.33 0a4.17 4.17 0 1 0 -8.33 0zM925.33 489.5a4.17 4.17 0 1 0 8.33 0a4.17 4.17 0 1 0 -8.33 0zM942.33 422.5a4.17 4.17 0 1 0 8.33 0a4.17 4.17 0 1 0 -8.33 0z" fill="#008000" stroke="#008000" stroke-width="1.39"/>
<polyline points="79.33,488.72 96.32,488.72 113.30,488.72 130.29,488.72 147.27,488.72 164.26,488.72 181.24,488.72 198.23,488.72 215.21,488.72 232.20,488.72 249.18,488.72 266.16,488.72 283.15,388.00 300.13,119.42 317.12,421.57 334.10,421.57 351.09,488.72 368.07,488.72 385.06,488.72 402.04,488.72 419.03,488.72 436.01,488.72 453.00,488.72 469.98,488.72 486.97,488.72 503.95,488.72 520.94,488.72 537.92,488.72 554.91,488.72 571.89,488.72 588.88,488.72 605.86,488.72 622.85,488.72 639.83,488.72 656.82,488.72 673.80,488.72 690.79,488.72 707.77,488.72 724.75,488.72 741.74,488.72 758.72,488.72 775.71,488.72 792.69,488.72 809.68,488.72 826.66,488.72 843.65,488.72 860.63,488.72 877.62,488.72 894.60,488.72 911.59,488.72 928.57,488.72 945.56,488.72" fill="none" stroke="#0000ff" stroke-width="2.78" stroke-linejoin="round" stroke-dasharray="10.28 4.44"/>
<path d="M75.33 489.5a4.17 4.17 0 1 0 8.33 0a4.17 4.17 0 1 0 -8.33 0zM92.33 489.5a4.17 4.17 0 1 0 8.33 0a4.17 4.17 0 1 0 -8.33 0zM109.33 489.5a4.17 4.17 0 1 0 8.33 0a4.17 4.17 0 1 0 -8.33 0zM126.33 489.5a4.17 4.17 0 1 0 8.33 0a4.17 4.17 0 1 0 -8.33 0zM143.33 489.5a4.17 4.17 0 1 0 8.33 0a4.17 4.17 0 1 0 -8.33 0zM160.33 489.5a4.17 4.17 0 1 0 8.33 0a4.17 4.17 0 1 0 -8.33 0zM177.33 489.5a4.17 4.17 0 1 0 8.33 0a4.17 4.17 0 1 0 -8.33 0zM194.33 489.5a4.17 4.17 0 1 0 8.33 0a4.17 4.17 0 1 0 -8.33 0zM211.33 489.5a4.17 4.17 0 1 0 8.33 0a4.17 4.17 0 1 0 -8.33 0zM228.33 489.5a4.17 4.17 0 1 0 8.33 0a4.17 4.17 0 1 0 -8.33 0zM245.33 489.5a4.17 4.17 0 1 0 8.33 0a4.17 4.17 0 1 0 -8.33 0zM262.33 489.5a4.17 4.17 0 1 0 8.33 0a4.17 4.17 0 1 0 -8.33 0zM279.33 388.5a4.17 4.17 0 1 0 8.33 0a4.17 4.17 0 1 0 -8.33 0zM296.33 119.5a4.17 4.17 0 1 0 8.33 0a4.17 4.17 0 1 0 -8.33 0zM313.33 422.5a4.17 4.17 0 1 0 8.33 0a4.17 4.17 0 1 0 -8.33 0zM330.33 422.5a4.17 4.17 0 1 0 8.33 0a4.17 4.17 0 1 0 -8.33 0zM347.33 489.5a4.17 4.17 0 1 0 8.33 0a4.17 4.17 0 1 0 -8.33 0zM364.33 489.5a4.17 4.17 0 1 0 8.33 0a4.17 4.17 0 1 0 -8.33 0zM381.33 489.5a4.17 4.17 0 1 0 8.33 0a4.17 4.17 0 1 0 -8.33 0zM398.33 489.5a4.17 4.17 0 1 0 8.33 0a4.17 4.17 0 1 0 -8.33 0zM415.33 489.5a4.17 4.17 0 1 0 8.33 0a4.17 4.17 0 1 0 -8.33 0zM432.33 489.5a4.17 4.17 0 1 0 8.33 0a4.17 4.17 0 1 0 -8.33 0zM449.33 489.5a4.17 4.17 0 1 0 8.33 0a4.17 4.17 0 1 0 -8.33 0zM466.33 489.5a4.17 4.17 0 1 0 8.33 0a4.17 4.17 0 1 0 -8.33 0zM483.33 489.5a4.17 4.17 0 1 0 8.33 0a4.17 4.17 0 1 0 -8.33 0zM500.33 489.5a4.17 4.17 0 1 0 8.33 0a4.17 4.17 0 1 0 -8.33 0zM517.33 489.5a4.17 4.17 0 1 0 8.33 0a4.17 4.17 0 1 0 -8.33 0zM534.33 489.5a4.17 4.17 0 1 0 8.33 0a4.17 4.17 0 1 0 -8.33 0zM551.33 489.5a4.17 4.17 0 1 0 8.33 0a4.17 4.17 0 1 0 -8.33 0zM568.33 489.5a4.17 4.17 0 1 0 8.33 0a4.17 4.17 0 1 0 -8.33 0zM585.33 489.5a4.17 4.17 0 1 0 8.33 0a4.17 4.17 0 1 0 -8.33 0zM602.33 489.5a4.17 4.17 0 1 0 8.33 0a4.17 4.17 0 1 0 -8.33 0zM619.33 489.5a4.17 4.17 0 1 0 8.33 0a4.17 4.17 0 1 0 -8.33 0zM636.33 489.5a4.17 4.17 0 1 0 8.33 0a4.17 4.17 0 1 0 -8.33 0zM653.33 489.5a4.17 4.17 0 1 0 8.33 0a4.17 4.17 0 1 0 -8.33 0zM670.33 489.5a4.17 4.17 0 1 0 8.33 0a4.17 4.17 0 1 0 -8.33 0zM687.33 489.5a4.17 4.17 0 1 0 8.33 0a4.17 4.17 0 1 0 -8.33 0zM704.33 489.5a4.17 4.17 0 1 0 8.33 0a4.17 4.17 0 1 0 -8.33 0zM721.33 489.5a4.17 4.17 0 1 0 8.33 0a4.17 4.17 0 1 0 -8.33 0zM738.33 489.5a4.17 4.17 0 1 0 8.33 0a4.17 4.17 0 1 0 -8.33 0zM755.33 489.5a4.17 4.17 0 1 0 8.33 0a4.17 4.17 0 1 0 -8.33 0zM772.33 489.5a4.17 4.17 0 1 0 8.33 0a4.17 4.17 0 1 0 -8.33 0zM789.33 489.5a4.17 4.17 0 1 0 8.33 0a4.17 4.17 0 1 0 -8.33 0zM806.33 489.5a4.17 4.17 0 1 0 8.33 0a4.17 4.17 0 1 0 -8.33 0zM823.33 489.5a4.17 4.17 0 1 0 8.33 0a4.17 4.17 0 1 0 -8.33 0zM840.33 489.5a4.17 4.17 0 1 0 8.33 0a4.17 4.17 0 1 0 -8.33 0zM857.33 489.5a4.17 4.17 0 1 0 8.33 0a4.17 4.17 0 1 0 -8.33 0zM874.33 489.5a4.17 4.17 0 1 0 8.33 0a4.17 4.17 0 1 0 -8.33 0zM891.33 489.5a4.17 4.17 0 1 0 8.33 0a4.17 4.17 0 1 0 -8.33 0zM908.33 489.5a4.17 4.17 0 1 0 8.33 0a4.17 4.17 0 1 0 -8.33 0zM925.33 489.5a4.17 4.17 0 1 0 8.33 0a4.17 4.17 0 1 0 -8.33 0zM942.33 489.5a4.17 4.17 0 1 0 8.33 0a4.17 4.17 0 1 0 -8.33 0z" fill="#0000ff" stroke="#0000ff" stroke-width="1.39"/>
<polyline points="79.33,488.72 96.32,488.72 113.30,488.72 130.29,488.72 147.27,488.72 164.26,488.72 181.24,488.72 198.23,488.72 215.21,488.72 232.20,488.72 249.18,488.72 266.16,488.72 283.15,488.72 300.13,488.72 317.12,488.72 334.10,488.72 351.09,488.72 368.07,488.72 385.06,488.72 402.04,488.72 419.03,488.72 436.01,488.72 453.00,488.72 469.98,488.72 486.97,320.86 503.95,488.72 520.94,119.42 537.92,488.72 554.91,455.15 571.89,421.57 588.88,421.57 605.86,488.72 622.85,488.72 639.83,421.57 656.82,488.72 673.80,488.72 690.79,488.72 707.77,488.72 724.75,488.72 741.74,488.72 758.72,488.72 775.71,488.72 792.69,488.72 809.68,488.72 826.66,488.72 843.65,488.72 860.63,488.72 877.62,488.72 894.60,488.72 911.59,488.72 928.57,488.72 945.56,488.72" fill="none" stroke="#00bfbf" stroke-width="2.78" stroke-linejoin="round" stroke-dasharray="10.28 4.44"/>
<path d="M75.33 489.5a4.17 4.17 0 1 0 8.33 0a4.17 4.17 0 1 0 -8.33 0zM92.33 489.5a4.17 4.17 0 1 0 8.33 0a4.17 4.17 0 1 0 -8.33 0zM109.33 489.5a4.17 4.17 0 1 0 8.33 0a4.17 4.17 0 1 0 -8.33 0zM126.33 489.5a4.17 4.17 0 1 0 8.33 0a4.17 4.17 0 1 0 -8.33 0zM143.33 489.5a4.17 4.17 0 1 0 8.33 0a4.17 4.17 0 1 0 -8.33 0zM160.33 489.5a4.17 4.17 0 1 0 8.33 0a4.17 4.17 0 1 0 -8.33 0zM177.33 489.5a4.17 4.17 0 1 0 8.33 0a4.17 4.17 0 1 0 -8.33 0zM194.33 489.5a4.17 4.17 0 1 0 8.33 0a4.17 4.17 0 1 0 -8.33 0zM211.33 489.5a4.17 4.17 0 1 0 8.33 0a4.17 4.17 0 1 0 -8.33 0zM228.33 489.5a4.17 4.17 0 1 0 8.33 0a4.17 4.17 0 1 0 -8.33 0zM245.33 489.5a4.17 4.17 0 1 0 8.33 0a4.17 4.17 0 1 0 -8.33 0zM262.33 489.5a4.17 4.17 0 1 0 8.33 0a4.17 4.17 0 1 0 -8.33 0zM279.33 489.5a4.17 4.17 0 1 0 8.33 0a4.17 4.17 0 1 0 -8.33 0zM296.33 489.5a4.17 4.17 0 1 0 8.33 0a4.17 4.17 0 1 0 -8.33 0zM313.33 489.5a4.17 4.17 0 1 0 8.33 0a4.17 4.17 0 1 0 -8.33 0zM330.33 489.5a4.17 4.17 0 1 0 8.33 0a4.17 4.17 0 1 0 -8.33 0zM347.33 489.5a4.17 4.17 0 1 0 8.33 0a4.17 4.17 0 1 0 -8.33 0zM364.33 489.5a4.17 4.17 0 1 0 8.33 0a4.17 4.17 0 1 0 -8.33 0zM381.33 489.5a4.17 4.17 0 1 0 8.33 0a4.17 4.17 0 1 0 -8.33 0zM398.33 489.5a4.17 4.17 0 1 0 8.33 0a4.17 4.17 0 1 0 -8.33 0zM415.33 489.5a4.17 4.17 0 1 0 8.33 0a4.17 4.17 0 1 0 -8.33 0zM432.33 489.5a4.17 4.17 0 1 0 8.33 0a4.17 4.17 0 1 0 -8.33 0zM449.33 489.5a4.17 4.17 0 1 0 8.33 0a4.17 4.17 0 1 0 -8.33 0zM466.33 489.5a4.17 4.17 0 1 0 8.33 0a4.17 4.17 0 1 0 -8.33 0zM483.33 321.5a4.17 4.17 0 1 0 8.33 0a4.17 4.17 0 1 0 -8.33 0zM500.33 489.5a4.17 4.17 0 1 0 8.33 0a4.17 4.17 0 1 0 -8.33 0zM517.33 119.5a4.17 4.17 0 1 0 8.33 0a4.17 4.17 0 1 0 -8.33 0zM534.33 489.5a4.17 4.17 0 1 0 8.33 0a4.17 4.17 0 1 0 -8.33 0zM551.33 455.5a4.17 4.17 0 1 0 8.33 0a4.17 4.17 0 1 0 -8.33 0zM568.33 422.5a4.17 4.17 0 1 0 8.33 0a4.17 4.17 0 1 0 -8.33 0zM585.33 422.5a4.17 4.17 0 1 0 8.33 0a4.17 4.17 0 1 0 -8.33 0zM602.33 489.5a4.17 4.17 0 1 0 8.33 0a4.17 4.17 0 1 0 -8.33 0zM619.33 489.5a4.17 4.17 0 1 0 8.33 0a4.17 4.17 0 1 0 -8.33 0zM636.33 422.5a4.17 4.17 0 1 0 8.33 0a4.17 4.17 0 1 0 -8.33 0zM653.33 489.5a4.17 4.17 0 1 0 8.33 0a4.17 4.17 0 1 0 -8.33 0zM670.33 489.5a4.17 4.17 0 1 0 8.33 0a4.17 4.17 0 1 0 -8.33 0zM687.33 489.5a4.17 4.17 0 1 0 8.33 0a4.17 4.17 0 1 0 -8.33 0zM704.33 489.5a4.17 4.17 0 1 0 8.33 0a4.17 4.17 0 1 0 -8.33 0zM721.33 489.5a4.17 4.17 0 1 0 8.33 0a4.17 4.17 0 1 0 -8.33 0zM738.33 489.5a4.17 4.17 0 1 0 8.33 0a4.17 4.17 0 1 0 -8.33 0zM755.33 489.5a4.17 4.17 0 1 0 8.33 0a4.17 4.17 0 1 0 -8.33 0zM772.33 489.5a4.17 4.17 0 1 0 8.33 0a4.17 4.17 0 1 0 -8.33 0zM789.33 489.5a4.17 4.17 0 1 0 8.33 0a4.17 4.17 0 1 0 -8.33 0zM806.33 489.5a4.17 4.17 0 1 0 8.33 0a4.17 4.17 0 1 0 -8.33 0zM823.33 489.5a4.17 4.17 0 1 0 8.33 0a4.17 4.17 0 1 0 -8.33 0zM840.33 489.5a4.17 4.17 0 1 0 8.33 0a4.17 4.17 0 1 0 -8.33 0zM857.33 489.5a4.17 4.17 0 1 0 8.33 0a4.17 4.17 0 1 0 -8.33 0zM874.33 489.5a4.17 4.17 0 1 0 8.33 0a4.17 4.17 0 1 0 -8.33 0zM891.33 489.5a4.17 4.17 0 1 0 8.33 0a4.17 4.17 0 1 0 -8.33 0zM908.33 489.5a4.17 4.17 0 1 0 8.33 0a4.17 4.17 0 1 0 -8.33 0zM925.33 489.5a4.17 4.17 0 1 0 8.33 0a4.17 4.17 0 1 0 -8.33 0zM942.33 489.5a4.17 4.17 0 1 0 8.33 0a4.17 4.17 0 1 0 -8.33 0z" fill="#00bfbf" stroke="#00bfbf" stroke-width="1.39"/>
<polyline points="79.33,488.72 96.32,488.72 113.30,488.72 130.29,488.72 147.27,488.72 164.26,488.72 181.24,488.72 198.23,488.72 215.21,488.72 232.20,488.72 249.18,488.72 266.16,152.99 283.15,220.14 300.13,488.72 317.12,253.71 334.10,152.99 351.09,253.71 368.07,320.86 385.06,152.99 402.04,421.57 419.03,455.15 436.01,354.43 453.00,488.72 469.98,488.72 486.97,488.72 503.95,488.72 520.94,488.72 537.92,488.72 554.91,488.72 571.89,488.72 588.88,488.72 605.86,488.72 622.85,488.72 639.83,488.72 656.82,488.72 673.80,488.72 690.79,488.72 707.77,488.72 724.75,488.72 741.74,488.72 758.72,488.72 775.71,488.72 792.69,488.72 809.68,488.72 826.66,488.72 843.65,488.72 860.63,488.72 877.62,488.72 894.60,488.72 911.59,488.72 928.57,488.72 945.56,488.72" fill="none" stroke="#bf00bf" stroke-width="2.78" stroke-linejoin="round" stroke-dasharray="10.28 4.44"/>
<path d="M75.33 489.5a4.17 4.17 0 1 0 8.33 0a4.17 4.17 0 1 0 -8.33 0zM92.33 489.5a4.17 4.17 0 1 0 8.33 0a4.17 4.17 0 1 0 -8.33 0zM109.33 489.5a4.17 4.17 0 1 0 8.33 0a4.17 4.17 0 1 0 -8.33 0zM126.33 489.5a4.17 4.17 0 1 0 8.33 0a4.17 4.17 0 1 0 -8.33 0zM143.33 489.5a4.17 4.17 0 1 0 8.33 0a4.17 4.17 0 1 0 -8.33 0zM160.33 489.5a4.17 4.17 0 1 0 8.33 0a4.17 4.17 0 1 0 -8.33 0zM177.33 489.5a4.17 4.17 0 1 0 8.33 0a4.17 4.17 0 1 0 -8.33 0zM194.33 489.5a4.17 4.17 0 1 0 8.33 0a4.17 4.17 0 1 0 -8.33 0zM211.33 489.5a4.17 4.17 0 1 0 8.33 0a4.17 4.17 0 1 0 -8.33 0zM228.33 489.5a4.17 4.17 0 1 0 8.33 0a4.17 4.17 0 1 0 -8.33 0zM245.33 489.5a4.17 4.17 0 1 0 8.33 0a4.17 4.17 0 1 0 -8.33 0zM262.33 153.5a4.17 4.17 0 1 0 8.33 0a4.17 4.17 0 1 0 -8.33 0zM279.33 220.5a4.17 4.17 0 1 0 8.33 0a4.17 4.17 0 1 0 -8.33 0zM296.33 489.5a4.17 4.17 0 1 0 8.33 0a4.17 4.17 0 1 0 -8.33 0zM313.33 254.5a4.17 4.17 0 1 0 8.33 0a4.17 4.17 0 1 0 -8.33 0zM330.33 153.5a4.17 4.17 0 1 0 8.33 0a4.17 4.17 0 1 0 -8.33 0zM347.33 254.5a4.17 4.17 0 1 0 8.33 0a4.17 4.17 0 1 0 -8.33 0zM364.33 321.5a4.17 4.17 0 1 0 8.33 0a4.17 4.17 0 1 0 -8.33 0zM381.33 153.5a4.17 4.17 0 1 0 8.33 0a4.17 4.17 0 1 0 -8.33 0zM398.33 422.5a4.17 4.17 0 1 0 8.33 0a4.17 4.17 0 1 0 -8.33 0zM415.33 455.5a4.17 4.17 0 1 0 8.33 0a4.17 4.17 0 1 0 -8.33 0zM432.33 354.5a4.17 4.17 0 1 0 8.33 0a4.17 4.17 0 1 0 -8.33 0zM449.33 489.5a4.17 4.17 0 1 0 8.33 0a4.17 4.17 0 1 0 -8.33 0zM466.33 489.5a4.17 4.17 0 1 0 8.33 0a4.17 4.17 0 1 0 -8.33 0zM483.33 489.5a4.17 4.17 0 1 0 8.33 0a4.17 4.17 0 1 0 -8.33 0zM500.33 489.5a4.17 4.17 0 1 0 8.33 0a4.17 4.17 0 1 0 -8.33 0zM517.33 489.5a4.17 4.17 0 1 0 8.33 0a4.17 4.17 0 1 0 -8.33 0zM534.33 489.5a4.17 4.17 0 1 0 8.33 0a4.17 4.17 0 1 0 -8.33 0zM551.33 489.5a4.17 4.17 0 1 0 8.33 0a4.17 4.17 0 1 0 -8.33 0zM568.33 489.5a4.17 4.17 0 1 0 8.33 0a4.17 4.17 0 1 0 -8.33 0zM585.33 489.5a4.17 4.17 0 1 0 8.33 0a4.17 4.17 0 1 0 -8.33 0zM602.33 489.5a4.17 4.17 0 1 0 8.33 0a4.17 4.17 0 1 0 -8.33 0zM619.33 489.5a4.17 4.17 0 1 0 8.33 0a4.17 4.17 0 1 0 -8.33 0zM636.33 489.5a4.17 4.17 0 1 0 8.33 0a4.17 4.17 0 1 0 -8.33 0zM653.33 489.5a4.17 4.17 0 1 0 8.33 0a4.17 4.17 0 1 0 -8.33 0zM670.33 489.5a4.17 4.17 0 1 0 8.33 0a4.17 4.17 0 1 0 -8.33 0zM687.33 489.5a4.17 4.17 0 1 0 8.33 0a4.17 4.17 0 1 0 -8.33 0zM704.33 489.5a4.17 4.17 0 1 0 8.33 0a4.17 4.17 0 1 0 -8.33 0zM721.33 489.5a4.17 4.17 0 1 0 8.33 0a4.17 4.17 0 1 0 -8.33 0zM738.33 489.5a4.17 4.17 0 1 0 8.33 0a4.17 4.17 0 1 0 -8.33 0zM755.33 489.5a4.17 4.17 0 1 0 8.33 0a4.17 4.17 0 1 0 -8.33 0zM772.33 489.5a4.17 4.17 0 1 0 8.33 0a4.17 4.17 0 1 0 -8.33 0zM789.33 489.5a4.17 4.17 0 1 0 8.33 0a4.17 4.17 0 1 0 -8.33 0zM806.33 489.5a4.17 4.17 0 1 0 8.33 0a4.17 4.17 0 1 0 -8.33 0zM823.33 489.5a4.17 4.17 0 1 0 8.33 0a4.17 4.17 0 1 0 -8.33 0zM840.33 489.5a4.17 4.17 0 1 0 8.33 0a4.17 4.17 0 1 0 -8.33 0zM857.33 489.5a4.17 4.17 0 1 0 8.33 0a4.17 4.17 0 1 0 -8.33 0zM874.33 489.5a4.17 4.17 0 1 0 8.33 0a4.17 4.17 0 1 0 -8.33 0zM891.33 489.5a4.17 4.17 0 1 0 8.33 0a4.17 4.17 0 1 0 -8.33 0zM908.33 489.5a4.17 4.17 0 1 0 8.33 0a4.17 4.17 0 1 0 -8.33 0zM925.33 489.5a4.17 4.17 0 1 0 8.33 0a4.17 4.17 0 1 0 -8.33 0zM942.33 489.5a4.17 4.17 0 1 0 8.33 0a4.17 4.17 0 1 0 -8.33 0z" fill="#bf00bf" stroke="#bf00bf" stroke-width="1.39"/>
</g>
<rect x="67.50" y="78.50" width="883.00" height="419.00" fill="none" stroke="#000" stroke-width="1.11"/>
<path d="M67.50 497.50V502.50M101.50 497.50V502.50M142.50 497.50V502.50M176.50 497.50V502.50M210.50 497.50V502.50M244.50 497.50V502.50M286.50 497.50V502.50M320.50 497.50V502.50M358.50 497.50V502.50M392.50 497.50V502.50M434.50 497.50V502.50M468.50 497.50V502.50M506.50 497.50V502.50M540.50 497.50V502.50M582.50 497.50V502.50M616.50 497.50V502.50M657.50 497.50V502.50M691.50 497.50V502.50M730.50 497.50V502.50M764.50 497.50V502.50M805.50 497.50V502.50M839.50 497.50V502.50M878.50 497.50V502.50M912.50 497.50V502.50M67.50 489.50H62.50M67.50 422.50H62.50M67.50 354.50H62.50M67.50 287.50H62.50M67.50 220.50H62.50M67.50 153.50H62.50M67.50 86.50H62.50" stroke="#000" stroke-width="1.11" fill="none"/>
<text x="57.98" y="493.78" text-anchor="end">0.0</text>
<text x="57.98" y="426.63" text-anchor="end">0.2</text>
<text x="57.98" y="359.49" text-anchor="end">0.4</text>
<text x="57.98" y="292.34" text-anchor="end">0.6</text>
<text x="57.98" y="225.20" text-anchor="end">0.8</text>
<text x="57.98" y="158.05" text-anchor="end">1.0</text>
<text x="57.98" y="90.90" text-anchor="end">1.2</text>
<text transform="translate(35.66 533.26) rotate(-30)">1 sty</text>
<text transform="translate(61.98 537.68) rotate(-30)">15 sty</text>
<text transform="translate(114.66 532.22) rotate(-30)">1 lut</text>
<text transform="translate(140.97 536.64) rotate(-30)">15 lut</text>
<text transform="translate(174.24 536.68) rotate(-30)">1 mar</text>
<text transform="translate(200.56 541.10) rotate(-30)">15 mar</text>
<text transform="translate(253.45 534.80) rotate(-30)">1 kwi</text>
<text transform="translate(279.67 539.22) rotate(-30)">15 kwi</text>
<text transform="translate(322.50 536.12) rotate(-30)">1 maj</text>
<text transform="translate(348.82 540.54) rotate(-30)">15 maj</text>
<text transform="translate(401.18 534.54) rotate(-30)">1 cze</text>
<text transform="translate(427.49 538.96) rotate(-30)">15 cze</text>
<text transform="translate(478.63 531.43) rotate(-30)">1 lip</text>
<text transform="translate(504.94 535.85) rotate(-30)">15 lip</text>
<text transform="translate(552.51 532.99) rotate(-30)">1 sie</text>
<text transform="translate(578.82 537.41) rotate(-30)">15 sie</text>
<text transform="translate(623.74 534.99) rotate(-30)">1 wrz</text>
<text transform="translate(649.95 539.41) rotate(-30)">15 wrz</text>
<text transform="translate(694.85 536.02) rotate(-30)">1 paź</text>
<text transform="translate(721.17 540.44) rotate(-30)">15 paź</text>
<text transform="translate(779.80 530.64) rotate(-30)">1 lis</text>
<text transform="translate(806.11 535.06) rotate(-30)">15 lis</text>
<text transform="translate(843.98 534.47) rotate(-30)">1 gru</text>
<text transform="translate(870.30 538.89) rotate(-30)">15 gru</text>
<text transform="translate(26.30 288.48) rotate(-90)" x="-119.85" textLength="239.7">Średnia liczba lotów XC na tydzień</text>
<text x="333.6" y="16.00" textLength="291.1" font-weight="bold">Skąd startują loty XC &gt;200 pkt? (8/9)</text>
<text x="108.4" y="41.00" textLength="744">Średnia liczba lotów XC (&gt;200 pkt) na tydzień na startowisko (klaster 5 km). Średnia z 10 lat (2015–2024).</text>
<text x="202.2" y="59.90" textLength="555.6">Źródło: Xcontest. Więcej analiz na www.noga.es/paragliding © 2025 Rafał Noga</text>
<rect x="74.50" y="85.50" width="271.00" height="255.00" rx="2.8" fill="#fff" fill-opacity="0.6" stroke="#ccc" stroke-opacity="0.6" stroke-width="1.2"/>
<path d="M80.06 96.50H121.73" stroke="#000000" stroke-width="2.78" stroke-linecap="square"/>
<path d="M100.90 90.50l6.00 6.00l-6.00 6.00l-6.00 -6.00z" fill="#000000" stroke="#000000" stroke-width="1.39"/>
<text x="129.60" y="100.80" textLength="141.8">Hiszpania - Chiclana</text>
<path d="M80.06 117.50H121.73" stroke="#ff0000" stroke-width="2.78" stroke-linecap="square"/>
<path d="M100.90 111.50l6.00 6.00l-6.00 6.00l-6.00 -6.00z" fill="#ff0000" stroke="#ff0000" stroke-width="1.39"/>
<text x="129.60" y="121.80" textLength="132.5">Niemcy - Brauneck</text>
<path d="M80.06 138.50H121.73" stroke="#008000" stroke-width="2.78" stroke-linecap="square"/>
<path d="M100.90 132.50l6.00 6.00l-6.00 6.00l-6.00 -6.00z" fill="#008000" stroke="#008000" stroke-width="1.39"/>
<text x="129.60" y="142.80" textLength="123.5">Iran - Veis Kerm...</text>
<path d="M80.06 159.50H121.73" stroke="#0000ff" stroke-width="2.78" stroke-linecap="square"/>
<path d="M100.90 153.50l6.00 6.00l-6.00 6.00l-6.00 -6.00z" fill="#0000ff" stroke="#0000ff" stroke-width="1.39"/>
<text x="129.60" y="163.80" textLength="110.6">Turcja - C?ameli</text>
<path d="M80.06 180.50H121.73" stroke="#00bfbf" stroke-width="2.78" stroke-linecap="square"/>
<path d="M100.90 174.50l6.00 6.00l-6.00 6.00l-6.00 -6.00z" fill="#00bfbf" stroke="#00bfbf" stroke-width="1.39"/>
<text x="129.60" y="184.80" textLength="129.5">Brazylia - Formosa</text>
<path d="M80.06 201.50H121.73" stroke="#bf00bf" stroke-width="2.78" stroke-linecap="square"/>
<path d="M100.90 195.50l6.00 6.00l-6.00 6.00l-6.00 -6.00z" fill="#bf00bf" stroke="#bf00bf" stroke-width="1.39"/>
<text x="129.60" y="205.80" textLength="112.5">Włochy - Revine</text>
<path d="M80.06 222.50H121.73" stroke="#000000" stroke-width="2.78" stroke-dasharray="10.28 4.44"/>
<circle cx="100.90" cy="222.50" r="4.17" fill="#000000" stroke="#000000" stroke-width="1.39"/>
<text x="129.60" y="226.80" textLength="133.1">Austria - Hochstein</text>
<path d="M80.06 243.50H121.73" stroke="#ff0000" stroke-width="2.78" stroke-dasharray="10.28 4.44"/>
<circle cx="100.90" cy="243.50" r="4.17" fill="#ff0000" stroke="#ff0000" stroke-width="1.39"/>
<text x="129.60" y="247.80" textLength="88.5">USA - Jupiter</text>
<path d="M80.06 264.50H121.73" stroke="#008000" stroke-width="2.78" stroke-dasharray="10.28 4.44"/>
<circle cx="100.90" cy="264.50" r="4.17" fill="#008000" stroke="#008000" stroke-width="1.39"/>
<text x="129.60" y="268.80" textLength="211.2">Nowa Zelandia - Coronet Peak</text>
<path d="M80.06 285.50H121.73" stroke="#0000ff" stroke-width="2.78" stroke-dasharray="10.28 4.44"/>
<circle cx="100.90" cy="285.50" r="4.17" fill="#0000ff" stroke="#0000ff" stroke-width="1.39"/>
<text x="129.60" y="289.80" textLength="163.4">Tajlandia - Khao Phraya</text>
<path d="M80.06 306.50H121.73" stroke="#00bfbf" stroke-width="2.78" stroke-dasharray="10.28 4.44"/>
<circle cx="100.90" cy="306.50" r="4.17" fill="#00bfbf" stroke="#00bfbf" stroke-width="1.39"/>
<text x="129.60" y="310.80" textLength="178.3">Wielka Brytania - Milk Hill</text>
<path d="M80.06 327.50H121.73" stroke="#bf00bf" stroke-width="2.78" stroke-dasharray="10.28 4.44"/>
<circle cx="100.90" cy="327.50" r="4.17" fill="#bf00bf" stroke="#bf00bf" stroke-width="1.39"/>
<text x="129.60" y="331.80" textLength="122.0">Szwajcaria - Pany</text>
</svg>
</body></html>
